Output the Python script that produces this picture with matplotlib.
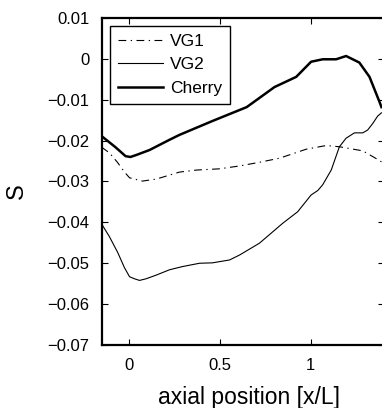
import matplotlib.pyplot as plt
from matplotlib.ticker import FuncFormatter

plt.rcParams['font.family'] = ['Liberation Sans', 'DejaVu Sans']

# VG1 (dash-dot)
x_vg1 = [-0.152, -0.109, -0.065, -0.026, 0.002, 0.073, 0.150, 0.277, 0.371, 0.498, 0.608,
         0.718, 0.829, 0.976, 1.086, 1.159, 1.288, 1.370, 1.391]
s_vg1 = [-0.0216, -0.0230, -0.0253, -0.0277, -0.0291, -0.0299, -0.0294, -0.0277, -0.0272, -0.0269, -0.0262,
         -0.0253, -0.0243, -0.0221, -0.0212, -0.0215, -0.0225, -0.0246, -0.0252]

# VG2 (thin)
x_vg2 = [-0.152, -0.109, -0.063, -0.026, 0.002, 0.029, 0.057, 0.093, 0.149, 0.222, 0.295,
         0.388, 0.459, 0.553, 0.608, 0.718, 0.847, 0.929, 1.003, 1.040, 1.067, 1.114,
         1.159, 1.196, 1.242, 1.288, 1.315, 1.343, 1.370, 1.391]
s_vg2 = [-0.0404, -0.0435, -0.0474, -0.0511, -0.0533, -0.0538, -0.0542, -0.0538, -0.0529, -0.0516, -0.0508,
         -0.0500, -0.0499, -0.0492, -0.0480, -0.0451, -0.0402, -0.0374, -0.0333, -0.0322, -0.0308, -0.0272,
         -0.0215, -0.0194, -0.0181, -0.0181, -0.0174, -0.0158, -0.0140, -0.0132]

# Cherry (thick)
x_ch = [-0.152, -0.076, -0.020, 0.007, 0.040, 0.112, 0.222, 0.277, 0.459, 0.648, 0.801,
        0.921, 1.003, 1.067, 1.141, 1.196, 1.269, 1.325, 1.380, 1.391]
s_ch = [-0.0189, -0.0216, -0.0238, -0.0240, -0.0235, -0.0223, -0.0198, -0.0186, -0.0152, -0.0118, -0.0069,
        -0.0044, -0.0007, -0.0001, -0.0001, 0.0007, -0.0009, -0.0044, -0.0105, -0.0118]

fig = plt.figure(figsize=(3.82, 4.08), dpi=100)
ax = fig.add_axes([102 / 382, 1 - 345 / 408, 282 / 382, 327 / 408])

ax.plot(x_vg1, s_vg1, color='black', lw=0.8, linestyle=(0, (7, 4, 1.2, 4)), label='VG1')
ax.plot(x_vg2, s_vg2, color='black', lw=0.8, label='VG2')
ax.plot(x_ch, s_ch, color='black', lw=1.8, label='Cherry')

ax.set_xlim(-0.15, 1.405)
ax.set_ylim(-0.07, 0.01)
ax.set_xticks([0, 0.5, 1])
ax.set_yticks([-0.07, -0.06, -0.05, -0.04, -0.03, -0.02, -0.01, 0, 0.01])
fmt = FuncFormatter(lambda v, p: f'{v:g}'.replace('-', '\u2212'))
ax.xaxis.set_major_formatter(fmt)
ax.yaxis.set_major_formatter(fmt)
ax.tick_params(direction='in', length=4, width=0.8, top=True, right=True, labelsize=12, pad=9)
for sp in ax.spines.values():
    sp.set_linewidth(1.6)

ax.set_xlabel('axial position [x/L]', fontsize=16.5)
ax.xaxis.set_label_coords(0.521, -0.125)
ax.set_ylabel('S', fontsize=17)
ax.yaxis.set_label_coords(-0.262, 0.47)

leg = ax.legend(loc='upper left', bbox_to_anchor=(0.028, 0.9755), borderaxespad=0,
                fontsize=12.5, handlelength=2.6, handletextpad=0.4, labelspacing=0.48,
                borderpad=0.45, fancybox=False, framealpha=1)
leg.get_frame().set_edgecolor('black')
leg.get_frame().set_linewidth(1.0)

fig.savefig('out.png', dpi=100)
